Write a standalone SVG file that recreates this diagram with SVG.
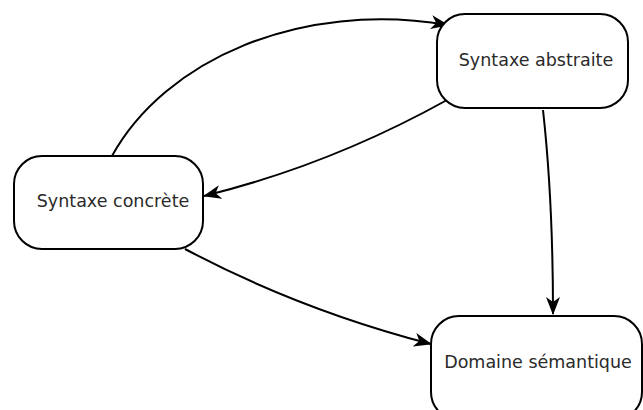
<svg xmlns="http://www.w3.org/2000/svg" width="643" height="410" viewBox="0 0 643 410">
  <defs>
    <style>
      .node rect { fill: #ffffff; stroke: #000000; stroke-width: 2; }
      .node text { font-family: "DejaVu Sans", sans-serif; font-size: 17.5px; fill: #2a2a2a; text-anchor: middle; }
      .edge { fill: none; stroke: #000000; stroke-width: 2; marker-end: url(#arrow); }
    </style>
    <marker id="arrow" viewBox="0 0 18 14" refX="17" refY="7" markerWidth="18" markerHeight="14" markerUnits="userSpaceOnUse" orient="auto">
      <path d="M0,0 L18,7 L0,14 L5,7 Z" fill="#000000"/>
    </marker>
  </defs>
  <rect width="643" height="410" fill="#ffffff"/>

  <g id="connectors">
    <path class="edge" d="M112,156 C165,60 300,0 448,25"/>
    <path class="edge" d="M447,100 Q330,165 204,196"/>
    <path class="edge" d="M543,110 Q553,200 553,314"/>
    <path class="edge" d="M185,249 Q300,310 431,344"/>
  </g>

  <g id="syntaxe-abstraite" class="node">
    <rect x="437" y="14" width="191" height="94" rx="28" ry="28"/>
    <text x="536" y="66">Syntaxe abstraite</text>
  </g>

  <g id="syntaxe-concrete" class="node">
    <rect x="14" y="156" width="189" height="93" rx="28" ry="28"/>
    <text x="113" y="207">Syntaxe concrète</text>
  </g>

  <g id="domaine-semantique" class="node">
    <rect x="431" y="316" width="211" height="104" rx="28" ry="28"/>
    <text x="538" y="368">Domaine sémantique</text>
  </g>
</svg>
